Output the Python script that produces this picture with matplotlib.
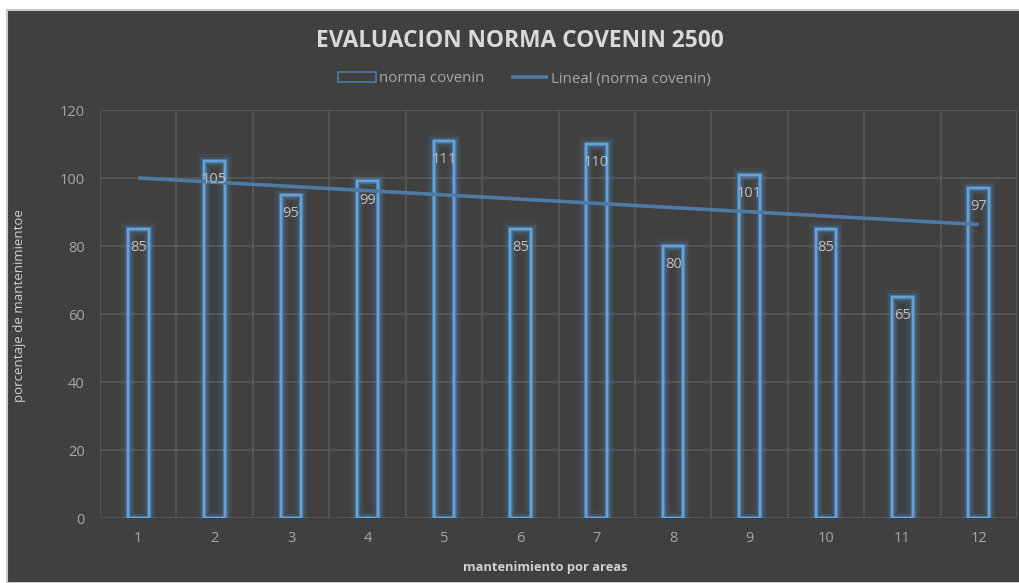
import numpy as np
import matplotlib
matplotlib.use("Agg")
import matplotlib.pyplot as plt
from matplotlib.patches import Rectangle
import matplotlib.patheffects as pe

#Datos
areas = [1, 2, 3, 4, 5, 6, 7, 8, 9, 10, 11, 12]
norma_covenin = [85, 105, 95, 99, 111, 85, 110, 80, 101, 85, 65, 97]

plt.rcParams['font.family'] = ['Open Sans', 'DejaVu Sans']

fondo = '#404040'
azul = '#5B9BD5'
gris_texto = '#A6A6A6'

fig = plt.figure(figsize=(10.2, 5.83), dpi=100, facecolor='white')
# area del grafico (con borde gris claro arriba / izquierda)
fig.patches.append(Rectangle((7/1020, 0), 1, 1 - 10/583, transform=fig.transFigure,
                             facecolor=fondo, edgecolor='#C8C8C8', linewidth=1.5, zorder=-1))

ax = fig.add_axes([100/1020, 1 - 518/583, 917/1020, 408/583])
ax.set_facecolor(fondo)

x = np.arange(len(areas))
ancho = 0.27

# barras solo con borde y un brillo alrededor
brillo = [pe.withStroke(linewidth=10, foreground=azul, alpha=0.07),
          pe.withStroke(linewidth=6.5, foreground=azul, alpha=0.15),
          pe.withStroke(linewidth=3.5, foreground=azul, alpha=0.3),
          pe.Normal()]
barras = ax.bar(x, norma_covenin, width=ancho, facecolor='none', edgecolor='#62A3DE',
                linewidth=1.6, zorder=3, label='norma covenin')
for b in barras:
    b.set_path_effects(brillo)

# etiquetas de datos (dentro, arriba)
for xi, v in zip(x, norma_covenin):
    ax.text(xi, v - 3.3, str(v), ha='center', va='top', fontsize=10.5,
            color='#BFBFBF', zorder=5)

# linea de tendencia lineal
m, c = np.polyfit(np.array(areas), np.array(norma_covenin), 1)
tendencia = m * np.array(areas) + c
linea, = ax.plot(x, tendencia, color='#4E7AA6', linewidth=2.6, zorder=4,
                 solid_capstyle='butt', label='Lineal (norma covenin)')

ax.set_xlim(-0.5, len(areas) - 0.5)
ax.set_ylim(0, 120)
ax.set_yticks(np.arange(0, 121, 20))
ax.set_xticks(x)
ax.set_xticklabels([str(a) for a in areas])

# cuadricula
ax.set_xticks(np.arange(-0.5, len(areas), 1), minor=True)
ax.grid(True, which='major', axis='y', color='#5A5A5A', linewidth=1.1, zorder=0)
ax.grid(True, which='minor', axis='x', color='#5A5A5A', linewidth=1.1, zorder=0)
ax.set_axisbelow(True)
ax.tick_params(which='both', length=0)
ax.tick_params(axis='both', colors=gris_texto, labelsize=10.5, pad=9)
ax.tick_params(axis='y', pad=11)
for s in ax.spines.values():
    s.set_visible(False)

ax.set_xlabel('mantenimiento por areas', color='#D0D0D0', fontsize=9.3,
              fontweight='bold')
ax.xaxis.set_label_coords(0.485, -43/408)
ax.set_ylabel('porcentaje de mantenimientoe', color='#D0D0D0', fontsize=9.5)
ax.yaxis.set_label_coords(-74/917, 0.52)

fig.text(0.51, 1 - 41/583, 'EVALUACION NORMA COVENIN 2500', ha='center', va='center',
         fontsize=16.4, fontweight='bold', color='#D9D9D9')

caja = Rectangle((0, 0), 1, 1, facecolor='none', edgecolor='#4E7AA6', linewidth=1.2)
leg = ax.legend([caja, linea], ['norma covenin', 'Lineal (norma covenin)'],
                loc='center', bbox_to_anchor=(0.463, 1 + 31/408),
                ncol=2, frameon=False, fontsize=10.8, labelcolor=gris_texto,
                handlelength=2.5, handleheight=0.6, columnspacing=1.8, handletextpad=0.2)

fig.savefig('out.png', dpi=100, facecolor=fig.get_facecolor())
